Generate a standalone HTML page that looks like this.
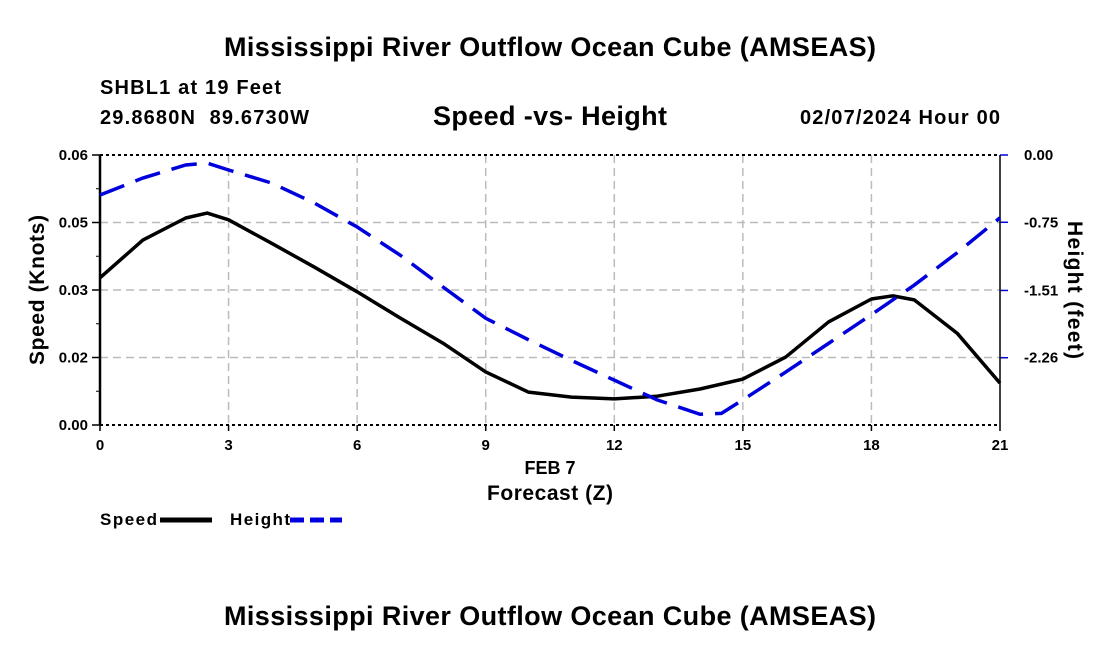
<!DOCTYPE html>
<html><head><meta charset="utf-8"><style>
body{margin:0;background:#fff;width:1100px;height:650px;overflow:hidden;font-family:"Liberation Sans",sans-serif}
text{font-family:"Liberation Sans",sans-serif;font-weight:bold;fill:#000}
</style></head><body>
<svg id="chart" width="1100" height="650" xmlns="http://www.w3.org/2000/svg">
<text x="550" y="56" font-size="27" text-anchor="middle" textLength="652">Mississippi River Outflow Ocean Cube (AMSEAS)</text>
<text x="100" y="94" font-size="20" textLength="181">SHBL1 at 19 Feet</text>
<text x="100" y="124" font-size="20" textLength="209" xml:space="preserve">29.8680N  89.6730W</text>
<text x="550" y="125" font-size="27" text-anchor="middle" textLength="234">Speed -vs- Height</text>
<text x="1000" y="124" font-size="20" text-anchor="end" textLength="200">02/07/2024 Hour 00</text>
<g id="grid"></g><g id="axes"></g><g id="series"></g>
<text x="550" y="474" font-size="18" text-anchor="middle">FEB 7</text>
<text x="550" y="500" font-size="21" text-anchor="middle" textLength="126">Forecast (Z)</text>
<text transform="translate(44,290) rotate(-90)" font-size="21" text-anchor="middle" textLength="150">Speed (Knots)</text>
<text transform="translate(1068,290) rotate(90)" font-size="21" text-anchor="middle" textLength="138">Height (feet)</text>
<g><text x="100" y="525" font-size="17" textLength="57">Speed</text><line x1="160" y1="520" x2="212" y2="520" stroke="#000" stroke-width="5"/></g>
<g><text x="230" y="525" font-size="17" textLength="60">Height</text><line x1="290" y1="520" x2="342" y2="520" stroke="#00d" stroke-width="5" stroke-dasharray="14,6"/></g>
<text x="550" y="625" font-size="27" text-anchor="middle" textLength="652">Mississippi River Outflow Ocean Cube (AMSEAS)</text>
</svg>
<script>
const hours=[0,1,2,2.5,3,4,5,6,7,8,9,10,11,12,13,14,15,16,17,18,18.5,19,20,21];
const speed=[0.0327,0.0411,0.046,0.0471,0.0456,0.0404,0.0351,0.0296,0.0238,0.0182,0.0118,0.0073,0.0062,0.0058,0.0064,0.008,0.0102,0.0151,0.0229,0.028,0.0287,0.0278,0.0204,0.0093];
const heightH=[0,1,2,2.5,3,4,5,6,7,8,9,10,11,12,13,14,14.5,15,16,17,18,19,20,21];
const height=[-0.446,-0.257,-0.111,-0.09,-0.167,-0.312,-0.535,-0.803,-1.115,-1.47,-1.82,-2.06,-2.29,-2.51,-2.73,-2.89,-2.88,-2.73,-2.42,-2.10,-1.78,-1.45,-1.09,-0.70];
const xTicks=[0,3,6,9,12,15,18,21];
const yTicks=[0,0.015,0.03,0.045,0.06];
const yLabels=["0.00","0.02","0.03","0.05","0.06"];
const y2Ticks=[0,-0.75,-1.51,-2.26];
const y2Labels=["0.00","-0.75","-1.51","-2.26"];
const L=100,R=1000,T=155,B=425;
const X=h=>L+h/21*(R-L);
const Y=v=>B-v/0.06*(B-T);
const Y2=v=>T-v/3.01*(B-T);
const NS="http://www.w3.org/2000/svg";
function mk(parent,tag,attrs){const e=document.createElementNS(NS,tag);for(const k in attrs)e.setAttribute(k,attrs[k]);document.getElementById(parent).appendChild(e);return e;}
xTicks.forEach(h=>{
 if(h>0&&h<21){const g=mk('grid','line',{x1:X(h),x2:X(h),y1:T,y2:B,stroke:'#bbb','stroke-width':1.5,'stroke-dasharray':'8,5'});
 
 }
 const t=mk('axes','text',{x:X(h),y:B+25,'font-size':15,'text-anchor':'middle'});t.textContent=h;
 
 
 mk('axes','line',{x1:X(h),x2:X(h),y1:B,y2:B+6,stroke:'#000','stroke-width':1.5});
});
yTicks.forEach((v,i)=>{
 if(i>0&&i<4){const g=mk('grid','line',{x1:L,x2:R,y1:Y(v),y2:Y(v),stroke:'#bbb','stroke-width':1.5,'stroke-dasharray':'8,5'});
 
 }
 const t=mk('axes','text',{x:L-12,y:Y(v)+5,'font-size':15,'text-anchor':'end'});t.textContent=yLabels[i];
 
 
 mk('axes','line',{x1:L-8,x2:L,y1:Y(v),y2:Y(v),stroke:'#000','stroke-width':1.5});
 if(i<4)mk('axes','line',{x1:L-4,x2:L,y1:Y(v+0.0075),y2:Y(v+0.0075),stroke:'#000','stroke-width':1});
});
y2Ticks.forEach((v,i)=>{
 const t=mk('axes','text',{x:R+24,y:Y2(v)+5,'font-size':15});t.textContent=y2Labels[i];
 
 
 mk('axes','line',{x1:R,x2:R+8,y1:Y2(v),y2:Y2(v),stroke:'#00d','stroke-width':1.5});
});
mk('axes','line',{x1:L,x2:L,y1:T,y2:B,stroke:'#000','stroke-width':2.5});
mk('axes','line',{x1:R,x2:R,y1:T,y2:B,stroke:'#000','stroke-width':1.5});
mk('axes','line',{x1:L,x2:R,y1:T,y2:T,stroke:'#000','stroke-width':2,'stroke-dasharray':'3,3'});
mk('axes','line',{x1:L,x2:R,y1:B,y2:B,stroke:'#000','stroke-width':2,'stroke-dasharray':'3,3'});
const sp=mk('series','polyline',{points:hours.map((h,i)=>X(h)+','+Y(speed[i])).join(' '),fill:'none',stroke:'#000','stroke-width':3.5,'stroke-linejoin':'round'});


const ht=mk('series','polyline',{points:heightH.map((h,i)=>X(h)+','+Y2(height[i])).join(' '),fill:'none',stroke:'#00d','stroke-width':3.5,'stroke-dasharray':'26,12'});


</script>
</body></html>
